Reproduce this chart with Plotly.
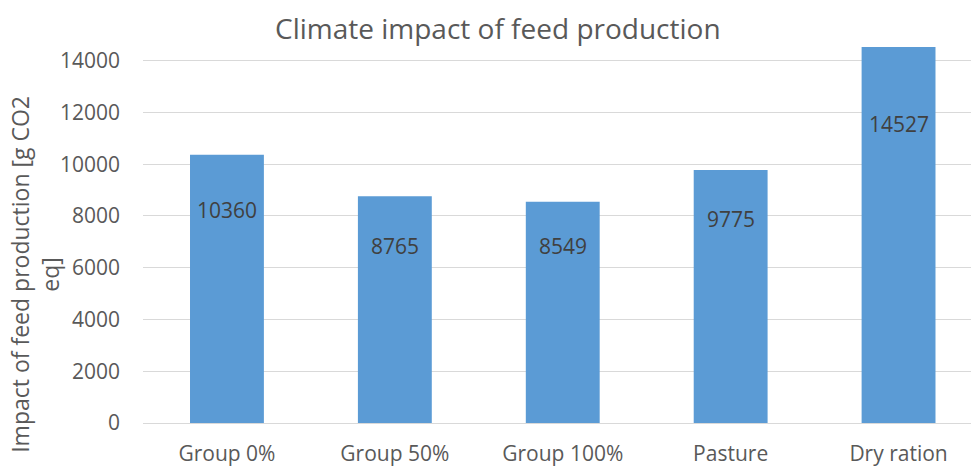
import plotly.graph_objects as go

# Feed production climate impact per ration group
categories = ["Group 0%", "Group 50%", "Group 100%", "Pasture", "Dry ration"]
impact_values = [10360, 8765, 8549, 9775, 14527]
# vertical placement of each value label (in axis units)
label_pos = [8220, 6855, 6830, 7890, 11570]
y_ticks = [0, 2000, 4000, 6000, 8000, 10000, 12000, 14000]

FONT = "Open Sans"
GREY = "#595959"
BAR = "#5B9BD5"

fig = go.Figure()
fig.add_trace(go.Bar(
    x=categories,
    y=impact_values,
    width=0.44,
    marker=dict(color=BAR, line=dict(width=0)),
    hoverinfo="x+y",
))

# value labels inside the bars
for cat, val, pos in zip(categories, impact_values, label_pos):
    fig.add_annotation(
        x=cat, y=pos, text=str(val), showarrow=False,
        xanchor="center", yanchor="middle",
        font=dict(family=FONT, size=21, color="#404040"),
    )

# y axis title, wrapped over two lines
fig.add_annotation(
    xref="paper", yref="paper", x=-0.13, y=0.395,
    text="Impact of feed production [g CO2<br>eq]",
    textangle=-90, showarrow=False, xanchor="center", yanchor="middle",
    font=dict(family=FONT, size=23, color=GREY),
)

fig.add_annotation(
    xref="paper", yref="paper", x=(498 - 143) / 828, y=(423.5 - 28) / 376.5,
    text="Climate impact of feed production", showarrow=False,
    xanchor="center", yanchor="middle",
    font=dict(family=FONT, size=28, color=GREY),
)

fig.update_layout(
    width=971, height=467,
    margin=dict(l=143, r=0, t=47, b=43.5, pad=0),
    paper_bgcolor="white", plot_bgcolor="white",
    showlegend=False,
    bargap=0.56,
    xaxis=dict(
        range=[-0.5, 4.4315], showgrid=False, showline=False, ticks="",
        ticklabelstandoff=16,
        tickfont=dict(family=FONT, size=21, color=GREY),
        fixedrange=True,
    ),
    yaxis=dict(
        range=[0, 14527], tickvals=y_ticks,
        ticktext=[str(v) for v in y_ticks],
        showgrid=True, gridcolor="#D9D9D9", gridwidth=1.3,
        zeroline=True, zerolinecolor="#D9D9D9", zerolinewidth=1.3,
        showline=False, ticks="", ticklabelstandoff=22,
        tickfont=dict(family=FONT, size=21, color=GREY),
        fixedrange=True,
    ),
)

fig.write_html("out.html")
